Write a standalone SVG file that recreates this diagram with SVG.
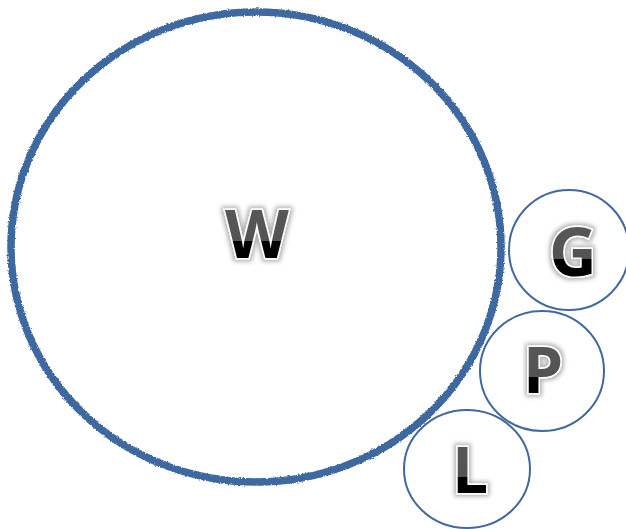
<svg xmlns="http://www.w3.org/2000/svg" width="626" height="529" viewBox="0 0 626 529">
  <defs>
    <linearGradient id="letterFill" x1="0" y1="0" x2="0" y2="1">
      <stop offset="0" stop-color="#5c5c5c"/>
      <stop offset="0.6" stop-color="#525252"/>
      <stop offset="0.6" stop-color="#000000"/>
      <stop offset="1" stop-color="#000000"/>
    </linearGradient>
    <filter id="glow" x="-30%" y="-30%" width="160%" height="160%">
      <feMorphology in="SourceAlpha" operator="dilate" radius="2" result="grown"/>
      <feGaussianBlur in="grown" stdDeviation="2" result="blur"/>
      <feFlood flood-color="#000" flood-opacity="0.3"/>
      <feComposite in2="blur" operator="in" result="shadow"/>
      <feMerge>
        <feMergeNode in="shadow"/>
        <feMergeNode in="SourceGraphic"/>
      </feMerge>
    </filter>
    <filter id="rough" x="-5%" y="-5%" width="110%" height="110%">
      <feTurbulence type="fractalNoise" baseFrequency="0.6" numOctaves="2" seed="3" result="noise"/>
      <feDisplacementMap in="SourceGraphic" in2="noise" scale="3" xChannelSelector="R" yChannelSelector="G" result="d"/>
      <feGaussianBlur in="d" stdDeviation="0.6"/>
    </filter>
  </defs>
  <style>
    .ring { fill: #ffffff; stroke: #41689f; stroke-width: 2; }
    .big { fill: #ffffff; stroke: #3d67a0; stroke-width: 7.5; }
    .letter { font-family: "Open Sans", "Liberation Sans", sans-serif; font-weight: 700; fill: url(#letterFill); stroke: #ffffff; stroke-width: 3; paint-order: stroke; text-anchor: middle; filter: url(#glow); }
  </style>

  <g id="node-W">
    <ellipse class="big" cx="256" cy="247" rx="245" ry="235" filter="url(#rough)"/>
    <text class="letter" x="257" y="258" font-size="66">W</text>
  </g>

  <g id="node-G">
    <circle class="ring" cx="569" cy="250" r="60"/>
    <text class="letter" x="573" y="276" font-size="66">G</text>
  </g>

  <g id="node-P">
    <ellipse class="ring" cx="542" cy="371" rx="62" ry="60"/>
    <text class="letter" x="543" y="393" font-size="64">P</text>
  </g>

  <g id="node-L">
    <ellipse class="ring" cx="467" cy="469" rx="63" ry="59"/>
    <text class="letter" x="470" y="493" font-size="64">L</text>
  </g>

  <g id="connectors"></g>
</svg>
